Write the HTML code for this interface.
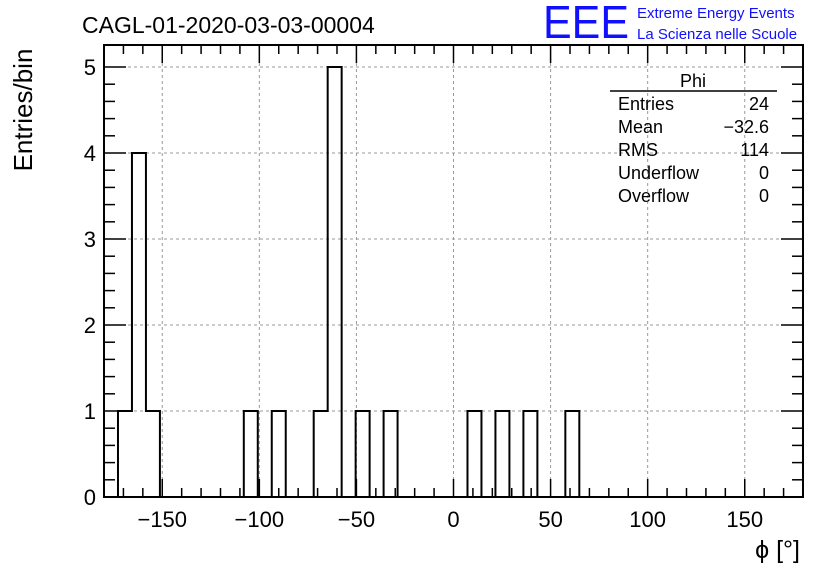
<!DOCTYPE html>
<html><head><meta charset="utf-8"><style>
body{margin:0;background:#fff;width:836px;height:572px;overflow:hidden}
svg text{font-family:"Liberation Sans",sans-serif}
</style></head><body>
<svg id="c" width="836" height="572">
<rect x="0" y="0" width="836" height="572" fill="#fff"/>
<text x="82" y="33" font-size="23">CAGL-01-2020-03-03-00004</text>
<text x="543" y="38" font-size="46" fill="#1010ff" textLength="86" lengthAdjust="spacingAndGlyphs">EEE</text>
<text x="637" y="18" font-size="15" fill="#1010ff">Extreme Energy Events</text>
<text x="637" y="39" font-size="15" fill="#1010ff">La Scienza nelle Scuole</text>
<text transform="translate(32,110) rotate(-90)" text-anchor="middle" font-size="26">Entries/bin</text>
<text x="800" y="558" text-anchor="end" font-size="25">ϕ [°]</text>
<g id="grid"></g><g id="ticks"></g><g id="bars"></g>
<rect x="104" y="45" width="699" height="452" fill="none" stroke="#000" stroke-width="2"/>
<g font-size="18">
<text x="693" y="87" text-anchor="middle">Phi</text>
<line x1="610" y1="91" x2="777" y2="91" stroke="#000" stroke-width="1.5"/>
<text x="618" y="110">Entries</text><text x="769" y="110" text-anchor="end">24</text>
<text x="618" y="133">Mean</text><text x="769" y="133" text-anchor="end">−32.6</text>
<text x="618" y="156">RMS</text><text x="769" y="156" text-anchor="end">114</text>
<text x="618" y="179">Underflow</text><text x="769" y="179" text-anchor="end">0</text>
<text x="618" y="202">Overflow</text><text x="769" y="202" text-anchor="end">0</text>
</g>
</svg>
<script>
const binIndex=[1,2,3,10,12,15,16,18,20,26,28,30,33];
const binCounts=[1,4,1,1,1,1,5,1,1,1,1,1,1];
const xTicks=[-150,-100,-50,0,50,100,150];
const yTicks=[0,1,2,3,4,5];
const xMin=-180,xMax=180,nBins=50,yMax=5.256;
const L=104,R=803,T=45,B=497;
const ns="http://www.w3.org/2000/svg";
const X=v=>L+(v-xMin)/(xMax-xMin)*(R-L);
const Y=v=>B-v/yMax*(B-T);
function mk(tag,a,p){const e=document.createElementNS(ns,tag);for(const k in a)e.setAttribute(k,a[k]);document.getElementById(p).appendChild(e);return e;}
xTicks.forEach(t=>{const g=mk('line',{x1:X(t),x2:X(t),y1:T,y2:B,stroke:'#999','stroke-dasharray':'3,3'},'grid');


const l=mk('text',{x:X(t),y:527,'text-anchor':'middle','font-size':22},'ticks');l.textContent=t<0?'−'+(-t):t;

});
yTicks.forEach(t=>{if(t>0){const g=mk('line',{x1:L,x2:R,y1:Y(t),y2:Y(t),stroke:'#999','stroke-dasharray':'3,3'},'grid');

}
const l=mk('text',{x:96,y:Y(t)+8,'text-anchor':'end','font-size':22},'ticks');l.textContent=t;

});
for(let v=-170;v<=170;v+=10){const big=v%50===0,h=big?18:9;
mk('line',{x1:X(v),x2:X(v),y1:B,y2:B-h,stroke:'#000','stroke-width':1.5},'ticks');
mk('line',{x1:X(v),x2:X(v),y1:T,y2:T+h,stroke:'#000','stroke-width':1.5},'ticks');}
for(let v=0;v<=5.2;v+=0.2){const big=Math.abs(v-Math.round(v))<1e-6,w=big?22:11;
mk('line',{x1:L,x2:L+w,y1:Y(v),y2:Y(v),stroke:'#000','stroke-width':1.5},'ticks');
mk('line',{x1:R,x2:R-w,y1:Y(v),y2:Y(v),stroke:'#000','stroke-width':1.5},'ticks');}
const counts=new Array(nBins).fill(0);binIndex.forEach((b,i)=>counts[b]=binCounts[i]);
const bw=(xMax-xMin)/nBins;let d=`M${X(xMin)},${Y(0)}`;
for(let i=0;i<nBins;i++){const x0=X(xMin+i*bw),x1=X(xMin+(i+1)*bw);d+=` L${x0},${Y(counts[i])} L${x1},${Y(counts[i])}`;}
d+=` L${X(xMax)},${Y(0)}`;
const p=mk('path',{d:d,fill:'none',stroke:'#000','stroke-width':2},'bars');


</script>
</body></html>
